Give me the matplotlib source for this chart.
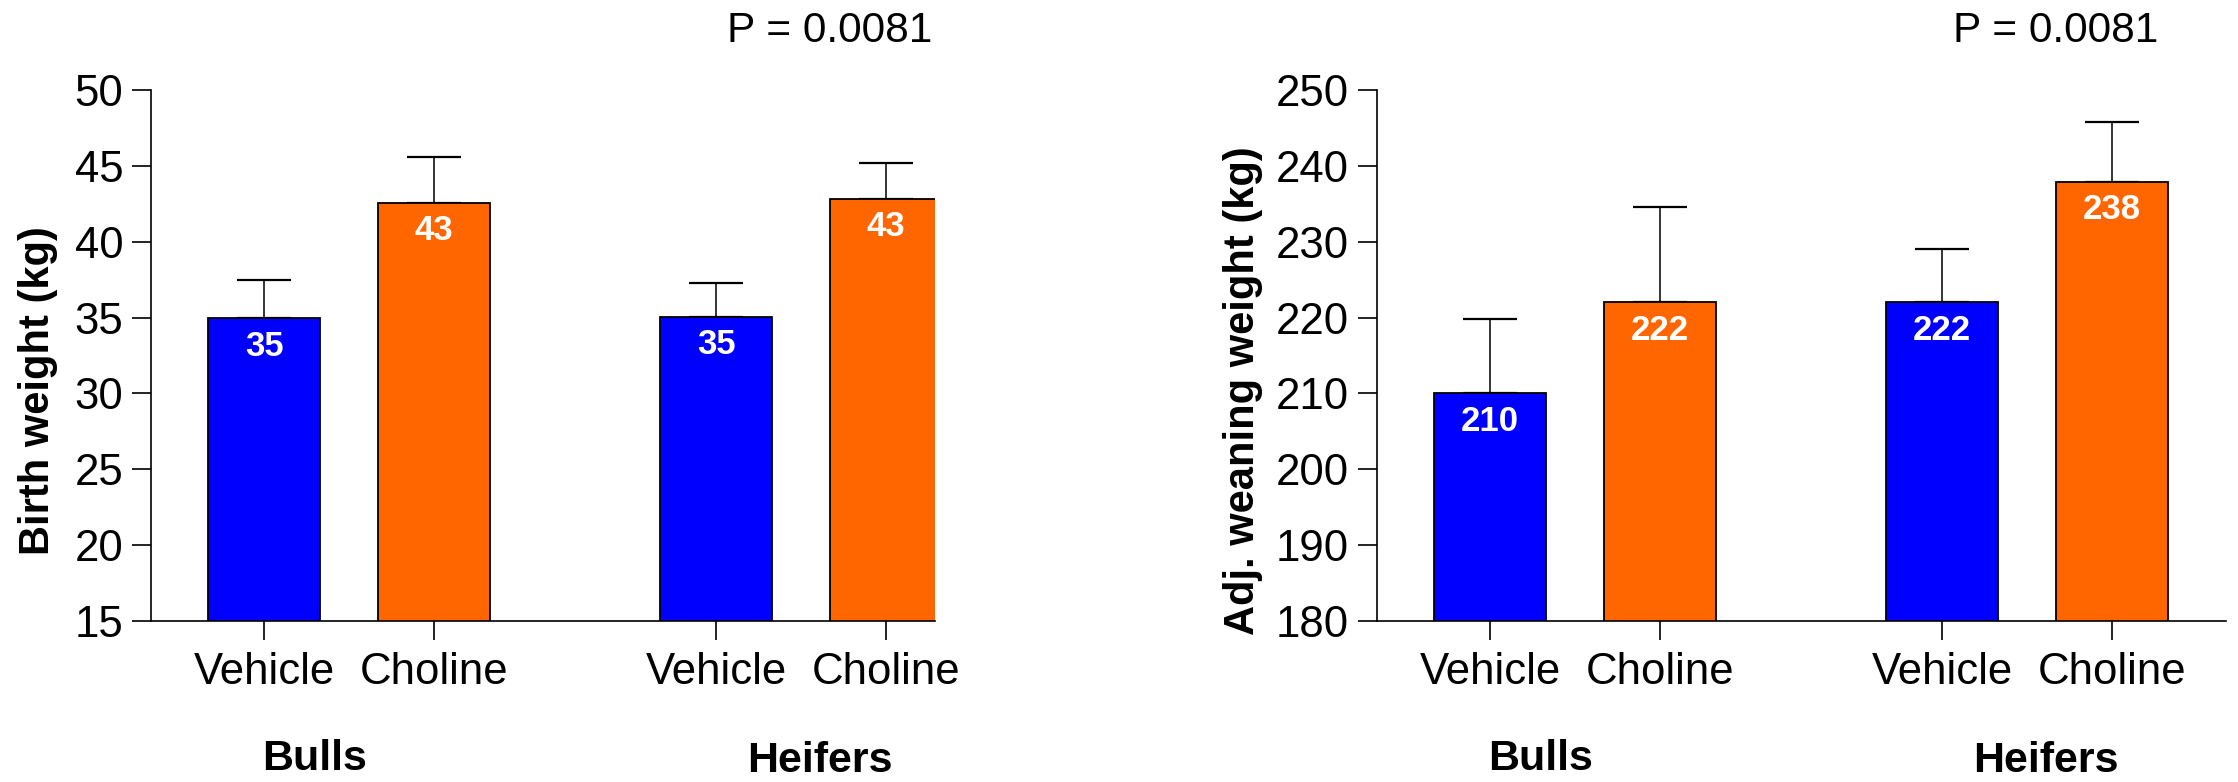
import numpy as np
import matplotlib
matplotlib.use('Agg')
import matplotlib.pyplot as plt
from matplotlib.transforms import blended_transform_factory

plt.rcParams['font.family'] = ['Liberation Sans', 'DejaVu Sans']

# bar order: Bulls-Vehicle, Bulls-Choline, Heifers-Vehicle, Heifers-Choline
treatments = ['Vehicle', 'Choline', 'Vehicle', 'Choline']
groups = ['Bulls', 'Heifers']
bar_x = [0, 1, 2.66, 3.66]
group_x = [0.3, 3.27]

birth_mean = [34.95, 42.57, 35.06, 42.84]
birth_sem = [2.53, 3.03, 2.22, 2.35]
wean_mean = [210.0, 222.0, 222.0, 237.9]
wean_sem = [9.8, 12.6, 7.0, 7.9]

p_text = 'P = 0.0081'
colors = ['#0000FF', '#FF6600', '#0000FF', '#FF6600']

W, H = 2238, 782
fig = plt.figure(figsize=(W / 100, H / 100), dpi=100)


def px_axes(x0, x1, y_top, y_bot):
    return fig.add_axes([x0 / W, 1 - y_bot / H, (x1 - x0) / W, (y_bot - y_top) / H])


def draw_panel(ax, means, sems, ylim, step, ylabel, xlim, label_x):
    ax.errorbar(bar_x, means, yerr=[np.zeros(len(sems)), sems], fmt='none',
                ecolor='black', elinewidth=1.1, capsize=19.5, capthick=1.6,
                zorder=1)
    ax.bar(bar_x, means, width=0.66, color=colors, edgecolor='black',
           linewidth=1.3, zorder=2)
    for x, m in zip(bar_x, means):
        ax.annotate(f'{m:.0f}', (x, m), xytext=(0, -20),
                    textcoords='offset points', ha='center', va='center',
                    color='white', fontsize=25, fontweight='bold', zorder=3)

    ax.set_xlim(*xlim)
    ax.set_ylim(*ylim)
    ax.set_yticks(np.arange(ylim[0], ylim[1] + 1, step))
    ax.set_xticks(bar_x)
    ax.set_xticklabels(treatments)
    for side in ['top', 'right']:
        ax.spines[side].set_visible(False)
    for side in ['left', 'bottom']:
        ax.spines[side].set_linewidth(1.2)
    ax.tick_params(axis='both', length=14, width=1.2, labelsize=31.5)
    ax.tick_params(axis='y', pad=6)
    ax.tick_params(axis='x', pad=8)
    ax.set_ylabel(ylabel, fontsize=30, fontweight='bold', va='center')
    ax.yaxis.set_label_coords(label_x, 0.5, transform=fig.transFigure)

    # group names sit below the tick labels, baseline in figure pixels
    trans = blended_transform_factory(ax.transData, fig.transFigure)
    for gx, name, base in zip(group_x, groups, [770, 772]):
        ax.text(gx, 1 - base / H, name, transform=trans, ha='center',
                va='baseline', fontsize=31, fontweight='bold')
    ax.text(3.33, 1 - 31 / H, p_text, transform=trans, ha='center',
            va='center', fontsize=30.5)


ax1 = px_axes(151, 935, 90, 621)
draw_panel(ax1, birth_mean, birth_sem, (15, 50), 5, 'Birth weight (kg)',
           (-0.665, 3.947), 38 / W)

ax2 = px_axes(1377, 2226, 90, 621)
draw_panel(ax2, wean_mean, wean_sem, (180, 250), 10,
           'Adj. weaning weight (kg)', (-0.665, 4.33), 1243 / W)

fig.savefig('out.png', dpi=100)
